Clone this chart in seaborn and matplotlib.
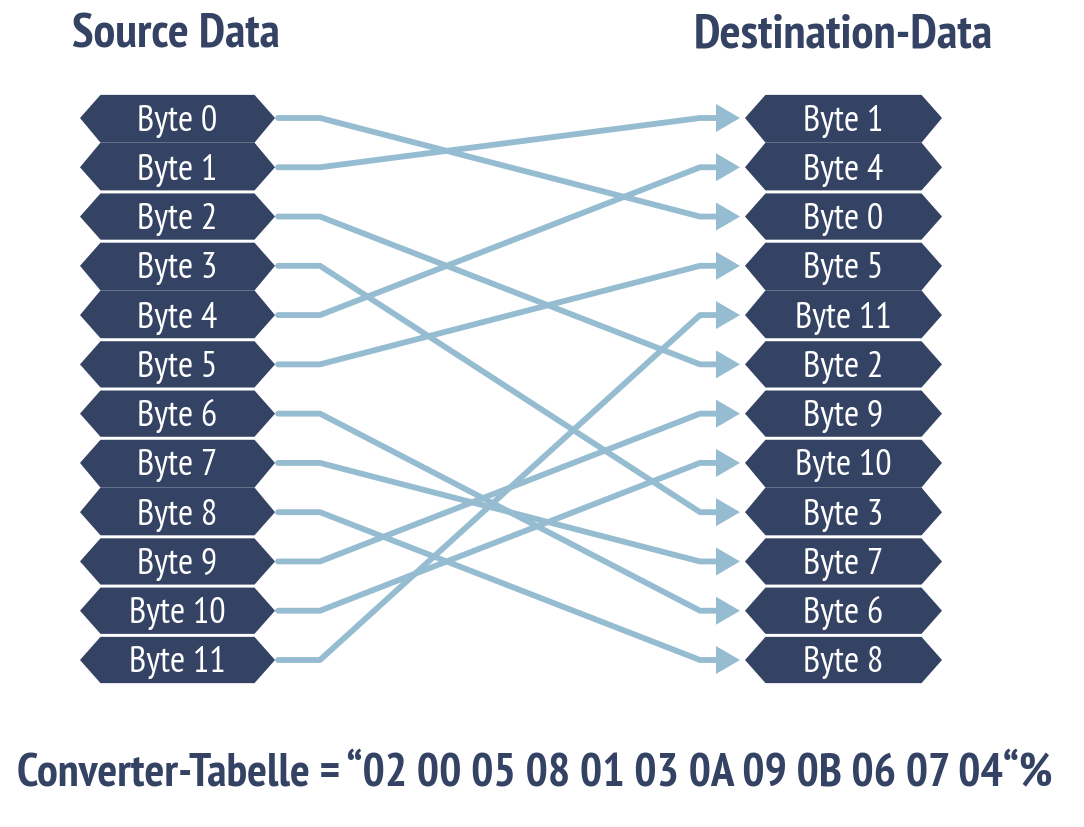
import matplotlib
matplotlib.use("Agg")
import matplotlib.pyplot as plt
from matplotlib.patches import Polygon
from matplotlib import font_manager as fm
import seaborn as sns
import pandas as pd

# ---- data ----
source_labels = ["Byte 0", "Byte 1", "Byte 2", "Byte 3", "Byte 4", "Byte 5",
                 "Byte 6", "Byte 7", "Byte 8", "Byte 9", "Byte 10", "Byte 11"]
dest_labels = ["Byte 1", "Byte 4", "Byte 0", "Byte 5", "Byte 11", "Byte 2",
               "Byte 9", "Byte 10", "Byte 3", "Byte 7", "Byte 6", "Byte 8"]
title_left = "Source Data"
title_right = "Destination-Data"
table_prefix = "Converter-Tabelle = \u201c"
table_suffix = "\u201c%"

# destination row of each source byte
dest_row = [dest_labels.index(s) for s in source_labels]
table_text = table_prefix + " ".join(f"{r:02X}" for r in dest_row) + table_suffix

# ---- style ----
NAVY = "#344264"
LINE = "#95BCD0"
sns.set_theme(style="white")
available = {f.name for f in fm.fontManager.ttflist}
prefs = ["Myriad Pro", "PT Sans Narrow", "Roboto Condensed", "Fira Sans Condensed",
         "Asap Condensed", "Encode Sans Condensed", "IBM Plex Sans Condensed",
         "Open Sans Condensed", "Source Sans 3", "Source Sans Pro",
         "Liberation Sans Narrow", "Liberation Sans"]
fam = next((p for p in prefs if p in available), "DejaVu Sans")
plt.rcParams["font.family"] = [fam, "DejaVu Sans"]

W, H = 1084, 828
fig = plt.figure(figsize=(W / 100, H / 100), dpi=100)
ax = fig.add_axes([0, 0, 1, 1])
ax.set_xlim(0, W)
ax.set_ylim(H, 0)
renderer = fig.canvas.get_renderer()


def fit_size(text, target_px, weight="normal", base=20):
    t = fig.text(0, 0, text, fontsize=base, fontweight=weight)
    w = t.get_window_extent(renderer).width
    t.remove()
    return base * target_px / w


y0, y1 = 119, 661
n = len(source_labels)
pitch = (y1 - y0) / (n - 1)
gap = 3.0
merged_pairs = [(0, 1), (3, 4), (7, 8)]
merged_next = {a for a, b in merged_pairs}
merged_prev = {b for a, b in merged_pairs}
tip = 20.5

byte_fs = fit_size("Byte 0", 80)


def row_y(i):
    return y0 + i * pitch


def hexagon(xl, xr, i, label):
    yc = row_y(i)
    top = yc - pitch / 2 + (0 if i in merged_prev else gap / 2)
    bot = yc + pitch / 2 - (0 if i in merged_next else gap / 2)
    pts = [(xl, yc), (xl + tip, top), (xr - tip, top), (xr, yc),
           (xr - tip, bot), (xl + tip, bot)]
    ax.add_patch(Polygon(pts, closed=True, facecolor=NAVY, edgecolor="none", zorder=3))
    ax.text((xl + xr) / 2, yc + 11.5, label, color="white", fontsize=byte_fs,
            ha="center", va="baseline", zorder=4)


L_XL, L_XR = 80, 275
R_XL, R_XR = 745, 942

for i, lab in enumerate(source_labels):
    hexagon(L_XL, L_XR, i, lab)
for i, lab in enumerate(dest_labels):
    hexagon(R_XL, R_XR, i, lab)

# connection paths
rows = []
for s, d in enumerate(dest_row):
    ys, yd = row_y(s), row_y(d)
    for k, (x, y) in enumerate([(278, ys), (320, ys), (700, yd), (718, yd)]):
        rows.append({"conn": s, "order": k, "x": x, "y": y})
df = pd.DataFrame(rows)
sns.lineplot(data=df, x="x", y="y", units="conn", estimator=None, sort=False,
             color=LINE, linewidth=4.2, ax=ax, zorder=2, legend=False)

for d in range(n):
    yd = row_y(d)
    ax.add_patch(Polygon([(716, yd - 14), (716, yd + 14), (740, yd)], closed=True,
                         facecolor=LINE, edgecolor="none", zorder=2))

ax.text(176, 47, title_left, color=NAVY, fontsize=fit_size(title_left, 208, "bold"),
        fontweight="bold", ha="center", va="baseline")
ax.text(843, 47, title_right, color=NAVY, fontsize=fit_size(title_right, 300, "bold"),
        fontweight="bold", ha="center", va="baseline")
ax.text(535, 786, table_text, color=NAVY, fontsize=fit_size(table_text, 1038, "bold"),
        fontweight="bold", ha="center", va="baseline")

ax.set_xlim(0, W)
ax.set_ylim(H, 0)
ax.axis("off")
fig.savefig("out.png", dpi=100, facecolor="white")
